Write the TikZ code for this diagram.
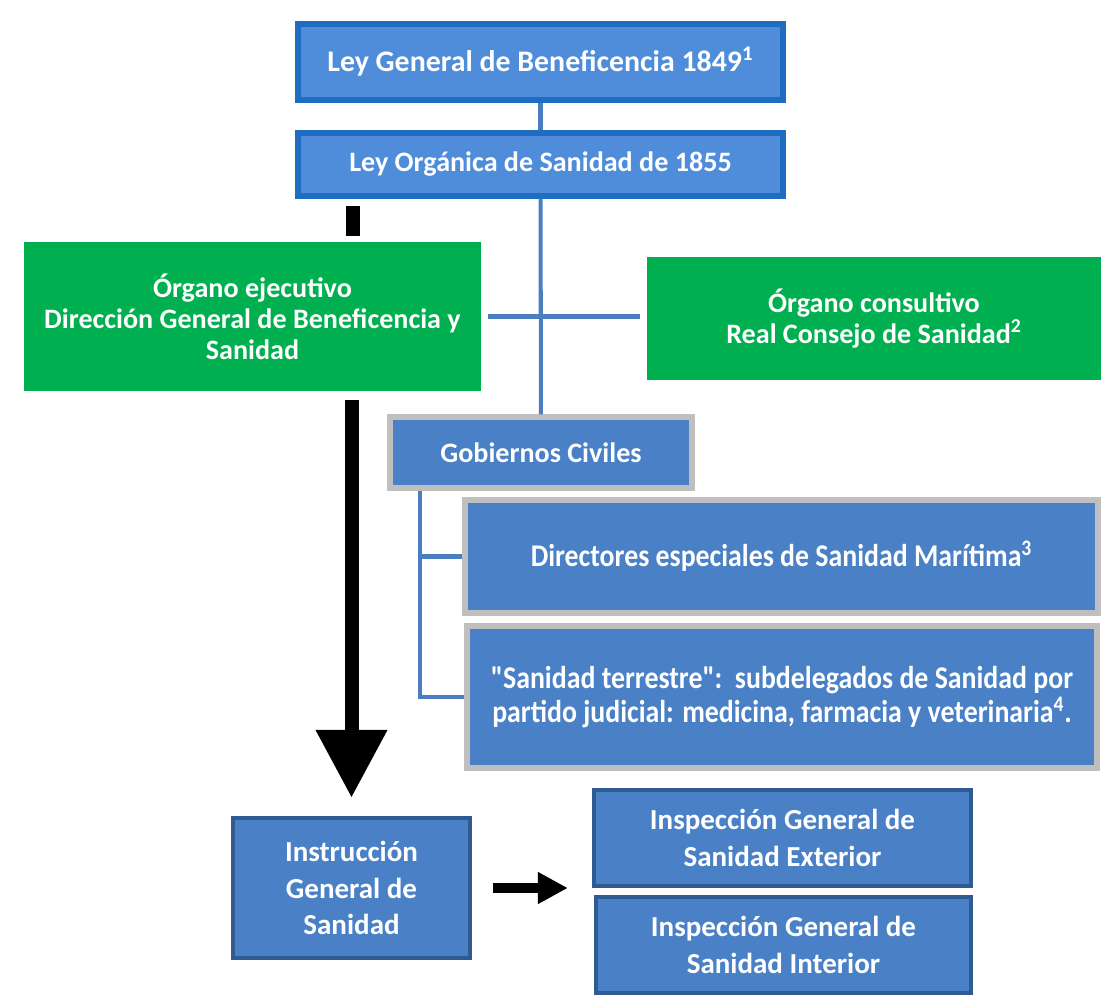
\documentclass[tikz,border=0pt]{standalone}
\usepackage{fontspec}
\setmainfont{Carlito}
\newfontfamily\narrowfont[FakeStretch=0.88]{Carlito}
\usepackage{xcolor}
\usetikzlibrary{
  positioning,
  calc,
  arrows.meta
}
\definecolor{lawblue}{HTML}{4F8DDB}
\definecolor{lawedge}{HTML}{1F6DC0}
\definecolor{organgreen}{HTML}{00B050}
\definecolor{unitblue}{HTML}{4A80C6}
\definecolor{unitgray}{HTML}{BFBFBF}
\definecolor{unitedge}{HTML}{2F5B92}
\definecolor{linkblue}{HTML}{4A7EC0}

\begin{document}
\begin{tikzpicture}[x=0.02cm, y=-0.02cm,
    lawbox/.style={draw=lawedge, line width=3pt, fill=lawblue, text=white,
      font=\fontsize{16}{17.6}\selectfont\bfseries, align=center},
    organbox/.style={fill=organgreen, text=white,
      font=\fontsize{16}{17.6}\selectfont\bfseries, align=center},
    graybox/.style={draw=unitgray, line width=3pt, fill=unitblue, text=white, align=center},
    darkbox/.style={draw=unitedge, line width=2.5pt, fill=unitblue, text=white,
      font=\fontsize{16.5}{21}\selectfont\bfseries, align=center},
    link/.style={draw=linkblue, line width=2.3pt},
    bigarrow/.style={line width=0.28cm, -{Triangle[width=1.36cm, length=1.36cm]}},
    smallarrow/.style={line width=0.2cm, -{Triangle[width=0.6cm, length=0.6cm]}}
  ]
      \useasboundingbox (0,0) rectangle (1104,1001);

      % Laws
      \node[lawbox, minimum width=9.7cm, minimum height=1.52cm,
        font=\fontsize{17}{18}\selectfont\bfseries] (ley1) at (540.5,62)
        {Ley General de Beneficencia 1849\textsuperscript{1}};
      \node[lawbox, minimum width=9.7cm, minimum height=1.26cm] (ley2) at (540.5,164.5)
        {Ley Orgánica de Sanidad de 1855};

      % Organs
      \node[organbox, minimum width=9.14cm, minimum height=2.98cm] (ejec) at (252.5,316.5)
        {Órgano ejecutivo\\Dirección General de Beneficencia y\\Sanidad};
      \node[organbox, minimum width=9.08cm, minimum height=2.46cm] (cons) at (874,318.5)
        {Órgano consultivo\\Real Consejo de Sanidad\textsuperscript{2}};

      % Civil governments
      \node[graybox, minimum width=6.04cm, minimum height=1.42cm,
        font=\fontsize{16}{17.6}\selectfont\bfseries] (gob) at (541,452.5) {Gobiernos Civiles};
      \node[graybox, minimum width=12.66cm, minimum height=2.26cm,
        font=\fontsize{18}{19.8}\narrowfont\bfseries] (dir) at (781.5,556.5)
        {Directores especiales de Sanidad Marítima\textsuperscript{3}};
      \node[graybox, minimum width=12.6cm, minimum height=2.84cm,
        font=\fontsize{18}{19.8}\narrowfont\bfseries] (terr) at (782,697)
        {"Sanidad terrestre":\ \ subdelegados de Sanidad por\\partido judicial: medicina, farmacia y veterinaria\textsuperscript{4}.};

      % Instruction and inspections
      \node[darkbox, minimum width=4.74cm, minimum height=2.8cm] (instr) at (351.5,888)
        {Instrucción\\General de\\Sanidad};
      \node[darkbox, minimum width=7.54cm, minimum height=1.92cm] (insE) at (782.5,838)
        {Inspección General de\\Sanidad Exterior};
      \node[darkbox, minimum width=7.5cm, minimum height=1.92cm] (insI) at (783.5,945)
        {Inspección General de\\Sanidad Interior};

      % Connectors
      \draw[link] (ley1) -- (ley2);
      \draw[link] (ley2) -- (gob);
      \draw[link, shorten <=0.14cm, shorten >=0.14cm] (ejec.east) -- (ejec.east -| cons.west);
      \coordinate (gobstem) at ($(gob.south west)+(33,0)$);
      \draw[link] (gobstem) |- (dir.west);
      \draw[link] (gobstem) |- (terr.west);

      % Black arrows
      \fill (346,206) rectangle (360,236);
      \draw[bigarrow, shorten <=0.18cm, shorten >=0.36cm] (ejec.south -| instr.north) -- (instr.north);
      \draw[smallarrow, shorten <=0.42cm, shorten >=0.48cm] (instr.east) -- (instr.east -| insE.west);
    \end{tikzpicture}
\end{document}
